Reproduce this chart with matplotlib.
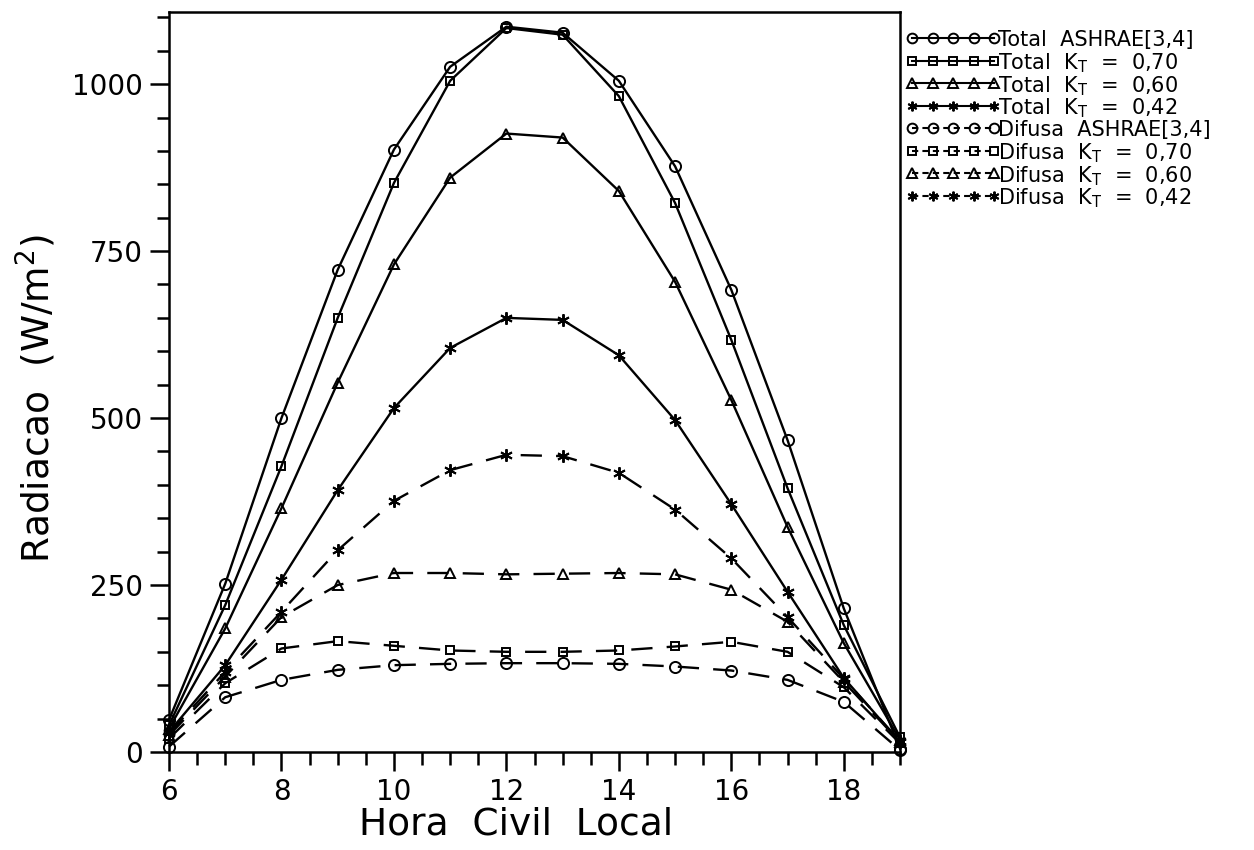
import matplotlib
matplotlib.use("Agg")
import matplotlib.pyplot as plt
from matplotlib.lines import Line2D
from matplotlib.ticker import MultipleLocator

hours = [6, 7, 8, 9, 10, 11, 12, 13, 14, 15, 16, 17, 18, 19]

total_ashrae = [48, 252, 500, 722, 902, 1026, 1086, 1077, 1005, 877, 692, 467, 215, 5]
total_070 = [40, 220, 428, 650, 852, 1005, 1084, 1074, 982, 822, 617, 395, 190, 22]
total_060 = [35, 185, 365, 553, 730, 860, 926, 920, 840, 704, 527, 337, 163, 18]
total_042 = [30, 130, 258, 392, 515, 605, 650, 647, 594, 497, 371, 240, 111, 15]

difusa_ashrae = [8, 82, 108, 123, 130, 132, 133, 133, 132, 128, 122, 108, 75, 3]
difusa_070 = [20, 103, 155, 166, 159, 152, 150, 150, 152, 158, 165, 150, 97, 13]
difusa_060 = [25, 113, 202, 250, 268, 268, 266, 267, 268, 266, 243, 195, 105, 15]
difusa_042 = [28, 120, 210, 302, 376, 422, 445, 443, 418, 363, 290, 202, 110, 16]

labels = [
    "Total  ASHRAE[3,4]",
    r"Total  K$_\mathregular{T}$  =  0,70",
    r"Total  K$_\mathregular{T}$  =  0,60",
    r"Total  K$_\mathregular{T}$  =  0,42",
    "Difusa  ASHRAE[3,4]",
    r"Difusa  K$_\mathregular{T}$  =  0,70",
    r"Difusa  K$_\mathregular{T}$  =  0,60",
    r"Difusa  K$_\mathregular{T}$  =  0,42",
]

series = [total_ashrae, total_070, total_060, total_042,
          difusa_ashrae, difusa_070, difusa_060, difusa_042]
markers = ["o", "s", "^", (6, 2, 0), "o", "s", "^", (6, 2, 0)]
msizes = [8, 6, 7, 9, 8, 6, 7, 9]
styles = ["-"] * 4 + [(0, (9, 6))] * 4

plt.rcParams['font.family'] = ['DejaVu Sans']
plt.rcParams['mathtext.fontset'] = 'dejavusans'

W, H = 1254, 850
fig = plt.figure(figsize=(W / 100, H / 100), dpi=100)
ax = fig.add_axes([169 / W, 1 - 752 / H, (900 - 169) / W, (752 - 12) / H])

for ys, m, ms, ls, lab in zip(series, markers, msizes, styles, labels):
    ax.plot(hours, ys, color="black", linestyle=ls, linewidth=1.7,
            marker=m, markersize=ms, markerfacecolor="none",
            markeredgecolor="black", markeredgewidth=1.4, label=lab,
            clip_on=False)

ax.set_xlim(6, 19)
ax.set_ylim(0, 1108)
ax.xaxis.set_minor_locator(MultipleLocator(0.5))
ax.set_xticks([6, 8, 10, 12, 14, 16, 18])
ax.yaxis.set_minor_locator(MultipleLocator(50))
ax.set_yticks([0, 250, 500, 750, 1000])

ax.tick_params(which="both", direction="out", top=False, right=False,
               width=1.8, labelsize=20)
ax.tick_params(which="major", length=14, pad=5)
ax.tick_params(which="minor", length=9)
for sp in ax.spines.values():
    sp.set_linewidth(1.8)

ax.set_xlabel("Hora  Civil  Local", fontsize=27)
ax.xaxis.set_label_coords(0.475, -0.074)
ax.set_ylabel(r"Radiacao  (W/m$^\mathregular{2}$)", fontsize=27)
ax.yaxis.set_label_coords(-0.152, 0.478)

# legend drawn row by row in figure pixel positions
row_y0, row_dy = 38, 22.5
hx0, hx1 = 912, 994
for i, (m, ls, lab) in enumerate(zip(markers, styles, labels)):
    yy = 1 - (row_y0 + row_dy * i) / H
    xs = [(hx0 + (hx1 - hx0) * k / 4) / W for k in range(5)]
    fig.add_artist(Line2D(xs, [yy] * 5, transform=fig.transFigure,
                          color="black", linestyle="-" if i < 4 else (0, (3, 2)),
                          linewidth=1.5, marker=m,
                          markersize=7 if m != "s" else 6,
                          markerfacecolor="none", markeredgecolor="black",
                          markeredgewidth=1.4))
    fig.text(998 / W, yy, lab, fontsize=15, ha="left", va="center_baseline")

fig.savefig("out.png", dpi=100)
